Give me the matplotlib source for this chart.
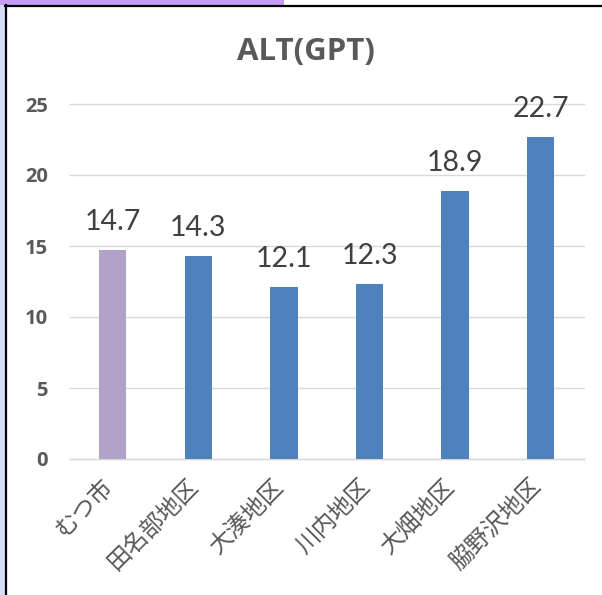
import matplotlib
matplotlib.use("Agg")
import matplotlib.pyplot as plt
from matplotlib.patches import Rectangle
from matplotlib.lines import Line2D
from matplotlib.transforms import ScaledTranslation

categories = ["むつ市", "田名部地区", "大湊地区", "川内地区", "大畑地区", "脇野沢地区"]
values = [14.7, 14.3, 12.1, 12.3, 18.9, 22.7]
bar_colors = ["#B3A2C7", "#4F81BD", "#4F81BD", "#4F81BD", "#4F81BD", "#4F81BD"]
yticks = [0, 5, 10, 15, 20, 25]
title = "ALT(GPT)"

W, H = 602, 595
dpi = 100
fig = plt.figure(figsize=(W / dpi, H / dpi), dpi=dpi)
fig.patch.set_facecolor("white")

# decorations
fig.patches.append(Rectangle((0, 1 - 5 / H), 284 / W, 5 / H, transform=fig.transFigure,
                             facecolor="#C89CF7", edgecolor="none", zorder=0))
fig.patches.append(Rectangle((0, 0), 5 / W, 1 - 5 / H, transform=fig.transFigure,
                             facecolor="#D5DDF6", edgecolor="none", zorder=0))
fig.lines.append(Line2D([5.5 / W, 5.5 / W], [0, 1 - 5 / H], transform=fig.transFigure,
                        color="black", linewidth=1.6))
fig.lines.append(Line2D([5 / W, 1], [1 - 5.5 / H, 1 - 5.5 / H], transform=fig.transFigure,
                        color="black", linewidth=1.6))

left, right = 70 / W, 583.5 / W
bottom, top = 1 - 459 / H, 1 - 104 / H
ax = fig.add_axes([left, bottom, right - left, top - bottom])

x = list(range(len(categories)))
bars = ax.bar(x, values, width=0.32, color=bar_colors, zorder=3)
ax.set_xlim(-0.5, len(categories) - 0.5)
ax.set_ylim(0, 25)
ax.set_yticks(yticks)
ax.yaxis.grid(True, color="#D9D9D9", linewidth=1.0, zorder=0)
for g in ax.get_ygridlines():
    g.set_clip_on(False)
for s in ["top", "right", "left"]:
    ax.spines[s].set_visible(False)
ax.spines["bottom"].set_color("#D9D9D9")
ax.spines["bottom"].set_linewidth(1.0)
ax.tick_params(axis="both", length=0)
ax.tick_params(axis="y", pad=16)
ax.set_yticklabels([str(t) for t in yticks], fontfamily=["Open Sans", "DejaVu Sans"],
                   fontweight="bold", fontsize=14.5, color="#595959")

ax.set_xticks(x)
ax.set_xticklabels(categories, rotation=45, ha="right", va="center", rotation_mode="anchor",
                   fontfamily=["Noto Sans CJK JP", "DejaVu Sans"], fontsize=17, color="#595959")
ax.tick_params(axis="x", pad=17)
shift = ScaledTranslation(-3 / dpi, 0, fig.dpi_scale_trans)
for lab in ax.get_xticklabels():
    lab.set_transform(lab.get_transform() + shift)

for xi, v in zip(x, values):
    ax.annotate(f"{v}", (xi, v), xytext=(0, 14.4), textcoords="offset points",
                ha="center", va="baseline", fontsize=20.5,
                fontfamily=["Lato", "DejaVu Sans"], color="#404040")

fig.text(306 / W, 1 - 52 / H, title, ha="center", va="center", fontsize=22.5,
         fontweight="bold", fontfamily=["Open Sans", "DejaVu Sans"], color="#595959")

fig.savefig("out.png", dpi=dpi)
